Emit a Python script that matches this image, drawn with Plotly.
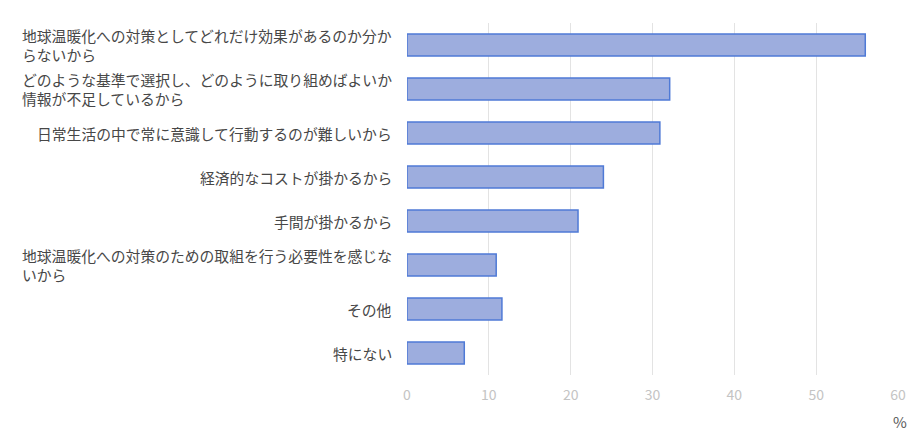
import plotly.graph_objects as go

categories = [
    "地球温暖化への対策としてどれだけ効果があるのか分か<br>らないから",
    "どのような基準で選択し、どのように取り組めばよいか<br>情報が不足しているから",
    "日常生活の中で常に意識して行動するのが難しいから",
    "経済的なコストが掛かるから",
    "手間が掛かるから",
    "地球温暖化への対策のための取組を行う必要性を感じな<br>いから",
    "その他",
    "特にない",
]
values = [56.0, 32.1, 30.9, 24.0, 20.9, 10.9, 11.6, 7.0]
x_ticks = [0, 10, 20, 30, 40, 50, 60]
unit_label = "%"

FONT = "Noto Sans CJK JP"

fig = go.Figure()
fig.add_trace(go.Bar(
    x=values,
    y=list(range(len(categories))),
    orientation="h",
    marker=dict(color="#9dadde", line=dict(color="#4f7ad6", width=1.5)),
    width=0.5,
    hoverinfo="x",
))

annotations = []
for i, c in enumerate(categories):
    annotations.append(dict(
        x=0, xref="paper", xanchor="right", xshift=-13,
        y=i, yref="y", yanchor="middle",
        text=c, showarrow=False, align="left",
        font=dict(family=FONT, size=14.8, color="#474747"),
    ))
annotations.append(dict(
    x=1, xref="paper", xanchor="center", xshift=2, y=0, yref="paper", yanchor="top", yshift=-34,
    text=unit_label, showarrow=False,
    font=dict(family=FONT, size=15, color="#595959"),
))

fig.update_layout(
    width=918, height=439,
    margin=dict(l=407, r=18, t=23, b=64),
    paper_bgcolor="white", plot_bgcolor="white",
    showlegend=False,
    bargap=0.5,
    annotations=annotations,
    xaxis=dict(
        range=[0, 60], tickvals=x_ticks, showgrid=True, gridcolor="#e3e3e3", gridwidth=1,
        zeroline=False, showline=False,
        tickfont=dict(family=FONT, size=14, color="#c4c4c4"),
        ticks="", ticklabelstandoff=10,
    ),
    yaxis=dict(
        range=[len(categories) - 0.5, -0.5], showticklabels=False, showgrid=False,
        zeroline=False, showline=False, ticks="",
    ),
)

fig.write_html("out.html")
